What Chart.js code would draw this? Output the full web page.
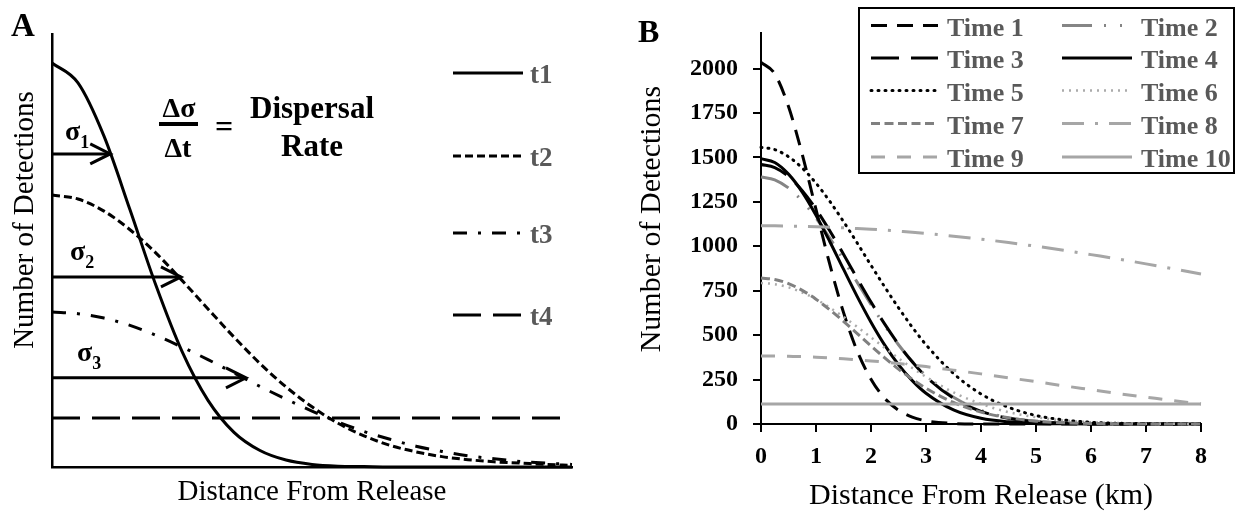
<!DOCTYPE html>
<html><head><meta charset="utf-8">
<script src="https://cdn.jsdelivr.net/npm/chart.js@4.4.1/dist/chart.umd.min.js"></script>
<style>
html,body{margin:0;padding:0;background:#fff;}
#wrap{position:relative;width:1236px;height:511px;overflow:hidden;background:#fff;}
#ca{position:absolute;left:0;top:0;}
#cb{position:absolute;left:610px;top:0;}
</style></head><body>
<div id="wrap"><canvas id="ca" width="610" height="511"></canvas><canvas id="cb" width="626" height="511"></canvas></div>
<script>
// ---------- Panel A (schematic) ----------
const schematicX = [0,0.5,1,1.5,2,2.5,3,3.5,4,4.5,5,5.5,6,6.5,7,7.5,8,8.5,9,9.5,10];
const t1Values = [93.3,88.7,76.4,59.4,41.9,26.7,15.4,8.0,3.8,1.6,0.6,0.2,0.1,0,0,0,0,0,0,0,0];
const t2Values = [62.8,61.9,59.1,54.8,49.4,43.1,36.5,30.0,23.9,18.5,13.9,10.1,7.2,5.0,3.5,2.4,1.7,1.2,0.9,0.6,0.4];
const t3Values = [35.8,35.4,34.4,32.7,30.4,27.7,24.8,21.7,18.6,15.7,12.9,10.4,8.2,6.4,4.8,3.6,2.6,1.9,1.3,0.9,0.6];
const t4Values = [11.3,11.3,11.3,11.3,11.3,11.3,11.3,11.3,11.3,11.3,11.3,11.3,11.3,11.3,11.3,11.3,11.3,11.3,11.3,11.3,11.3];
const panelALabels = ['t1','t2','t3','t4'];
const sigmaArrowHeights = [72.3, 43.9, 20.6];
const sigmaArrowLengths = [1.12, 2.48, 3.73];
const sigmaSubscripts = ['1','2','3'];

// ---------- Panel B (data) ----------
const distanceKm = [0,0.25,0.5,0.75,1,1.25,1.5,1.75,2,2.25,2.5,2.75,3,3.5,4,4.5,5,5.5,6,6.5,7,7.5,8];
const time1 = [2035,1970,1786,1517,1207,899,628,410,252,144,78,39,18,3,0,0,0,0,0,0,0,0,0];
const time2 = [1390,1374,1328,1255,1159,1046,923,797,672,554,446,351,271,150,76,35,15,6,2,0,0,0,0];
const time3 = [1460,1443,1393,1313,1209,1087,955,819,686,562,449,350,267,145,71,32,13,5,2,0,0,0,0];
const time4 = [1493,1471,1406,1305,1175,1027,871,717,573,444,334,244,173,79,32,12,4,1,0,0,0,0,0];
const time5 = [1557,1544,1504,1440,1355,1253,1139,1018,893,771,654,545,446,284,169,94,48,23,10,4,2,1,0];
const time6 = [793,787,769,740,702,655,603,546,487,428,370,315,265,178,113,67,38,20,10,5,2,1,0];
const time7 = [821,813,790,752,702,643,578,509,439,372,309,252,201,121,67,35,16,7,3,1,0,0,0];
const time8 = [1115,1115,1114,1112,1110,1107,1104,1100,1096,1091,1085,1079,1072,1057,1040,1021,1000,978,953,928,901,873,844];
const time9 = [383,383,381,379,376,372,367,361,355,348,340,332,323,303,282,260,238,215,193,171,151,131,113];
const time10 = [113,113,113,113,113,113,113,113,113,113,113,113,113,113,113,113,113,113,113,113,113,113,113];
const seriesNames = ['Time 1','Time 2','Time 3','Time 4','Time 5','Time 6','Time 7','Time 8','Time 9','Time 10'];
const yTickValues = [0,250,500,750,1000,1250,1500,1750,2000];
const xTickValues = [0,1,2,3,4,5,6,7,8];

const SERIF = "'Liberation Serif', 'Times New Roman', serif";
const LEGEND_GRAY = '#595959';

function pts(xs, ys){ return xs.map((x,i)=>({x:x, y:ys[i]})); }

// ---------- Panel A chart ----------
const aStyles = [
  {color:'#000', dash:[]},
  {color:'#000', dash:[8,4]},
  {color:'#000', dash:[14,11,3,11]},
  {color:'#000', dash:[28,12]}
];
const aValues = [t1Values,t2Values,t3Values,t4Values];

const annotA = {
  id:'annotA',
  afterDraw(chart){
    const {ctx, scales:{x,y}} = chart;
    ctx.save();
    ctx.strokeStyle = '#000'; ctx.fillStyle = '#000';
    const labelX = [65,70,77];
    const labelDy = [-14,-17,-17];
    sigmaArrowHeights.forEach((h,i)=>{
      const py = y.getPixelForValue(h);
      const x0 = x.getPixelForValue(0), x1 = x.getPixelForValue(sigmaArrowLengths[i]);
      ctx.lineWidth = 3; ctx.setLineDash([]); ctx.lineCap='butt';
      ctx.beginPath(); ctx.moveTo(x0,py); ctx.lineTo(x1,py); ctx.stroke();
      ctx.beginPath(); ctx.moveTo(x1-20,py-10); ctx.lineTo(x1,py); ctx.lineTo(x1-20,py+10); ctx.stroke();
      ctx.textAlign='left'; ctx.textBaseline='alphabetic';
      ctx.font = 'bold 28px ' + SERIF;
      ctx.fillText('\u03C3', labelX[i], py+labelDy[i]);
      const w = ctx.measureText('\u03C3').width;
      ctx.font = 'bold 18px ' + SERIF;
      ctx.fillText(sigmaSubscripts[i], labelX[i]+w, py+labelDy[i]+8);
    });
    // formula
    ctx.textAlign='center';
    ctx.font = 'bold 28px ' + SERIF;
    ctx.fillText('\u0394\u03C3', 179, 117);
    ctx.fillText('\u0394t', 178, 157);
    ctx.fillRect(159, 122, 39, 4);
    ctx.font = 'bold 32px ' + SERIF;
    ctx.textBaseline='middle';
    ctx.fillText('=', 224, 129);
    ctx.textBaseline='alphabetic';
    ctx.font = 'bold 31px ' + SERIF;
    ctx.fillText('Dispersal', 312, 118);
    ctx.fillText('Rate', 312, 156);
    // panel letter
    ctx.textAlign='left';
    ctx.font = 'bold 33px ' + SERIF;
    ctx.fillText('A', 11, 36);
    // y title
    ctx.save();
    ctx.translate(33, 220); ctx.rotate(-Math.PI/2);
    ctx.textAlign='center'; ctx.font = '29px ' + SERIF;
    ctx.fillText('Number of Detections', 0, 0);
    ctx.restore();
    // legend
    const rowsY = [73,156,233,315];
    chart.data.datasets.forEach((ds,i)=>{
      ctx.strokeStyle = ds.borderColor; ctx.lineWidth = ds.borderWidth;
      ctx.setLineDash(ds.borderDash || []);
      ctx.beginPath(); ctx.moveTo(453, rowsY[i]); ctx.lineTo(523, rowsY[i]); ctx.stroke();
      ctx.setLineDash([]);
      ctx.fillStyle = LEGEND_GRAY; ctx.textAlign='left';
      ctx.font = 'bold 27px ' + SERIF;
      ctx.fillText(ds.label, 530, rowsY[i]+10);
    });
    ctx.restore();
  }
};

new Chart(document.getElementById('ca'), {
  type:'scatter',
  data:{ datasets: panelALabels.map((lab,i)=>({
    label: lab, data: pts(schematicX, aValues[i]), showLine:true,
    borderColor: aStyles[i].color, borderDash: aStyles[i].dash, borderWidth:3,
    pointRadius:0, fill:false, clip:false, cubicInterpolationMode:'monotone'
  }))},
  options:{
    responsive:false, animation:false, devicePixelRatio:1,
    layout:{padding:{left:0,right:38,top:34,bottom:0}},
    plugins:{legend:{display:false}, tooltip:{enabled:false}},
    scales:{
      x:{type:'linear', min:0, max:10, ticks:{display:false}, grid:{display:false},
         border:{display:true,color:'#000',width:2.5},
         title:{display:true, text:'Distance From Release', color:'#000',
                font:{family:SERIF, size:29, lineHeight:1}, padding:{top:0,bottom:4}},
         afterFit(s){ s.height = 44; }},
      y:{type:'linear', min:0, max:100, ticks:{display:false}, grid:{display:false},
         border:{display:true,color:'#000',width:2.5},
         afterFit(s){ s.width = 52; }}
    }
  },
  plugins:[annotA]
});

// ---------- Panel B chart ----------
const bStyles = [
  {color:'#000000', dash:[16,10], cap:'butt', width:3},
  {color:'#858585', dash:[30,12,2,14,2,12], cap:'butt', width:3},
  {color:'#000000', dash:[28,12], cap:'butt', width:3},
  {color:'#000000', dash:[], cap:'butt', width:3},
  {color:'#000000', dash:[1,6], cap:'round', width:3},
  {color:'#ababab', dash:[2,5], cap:'butt', width:2.5},
  {color:'#808080', dash:[9,4.5], cap:'butt', width:3},
  {color:'#a6a6a6', dash:[22,11,3,11], cap:'butt', width:3},
  {color:'#a6a6a6', dash:[14,12], cap:'butt', width:3},
  {color:'#a6a6a6', dash:[], cap:'butt', width:3}
];
const bValues = [time1,time2,time3,time4,time5,time6,time7,time8,time9,time10];

const annotB = {
  id:'annotB',
  afterDraw(chart){
    const ctx = chart.ctx;
    ctx.save();
    ctx.strokeStyle='#000'; ctx.lineWidth=2; ctx.setLineDash([]);
    ctx.fillStyle='#fff';
    ctx.fillRect(249,8,375,165);
    ctx.strokeRect(249,8,375,165);
    const colLine = [[261,328],[452,522]];
    const colText = [337,531];
    const rowsY = [25.5,58,90.5,123.5,157];
    chart.data.datasets.forEach((ds,i)=>{
      const c = i%2, r = Math.floor(i/2);
      ctx.strokeStyle = ds.borderColor; ctx.lineWidth = ds.borderWidth;
      ctx.lineCap = ds.borderCapStyle || 'butt';
      ctx.setLineDash(ds.borderDash || []);
      ctx.beginPath(); ctx.moveTo(colLine[c][0], rowsY[r]); ctx.lineTo(colLine[c][1], rowsY[r]); ctx.stroke();
      ctx.setLineDash([]); ctx.lineCap='butt';
      ctx.fillStyle = LEGEND_GRAY; ctx.textAlign='left'; ctx.textBaseline='alphabetic';
      ctx.font = 'bold 26px ' + SERIF;
      ctx.fillText(ds.label, colText[c], rowsY[r]+10);
    });
    ctx.fillStyle='#000';
    ctx.font = 'bold 32px ' + SERIF;
    ctx.fillText('B', 28, 42);
    ctx.save();
    ctx.translate(50, 219); ctx.rotate(-Math.PI/2);
    ctx.textAlign='center'; ctx.font = '30px ' + SERIF;
    ctx.fillText('Number of Detections', 0, 0);
    ctx.restore();
    ctx.restore();
  }
};

new Chart(document.getElementById('cb'), {
  type:'scatter',
  data:{ datasets: seriesNames.map((name,i)=>({
    label:name, data: pts(distanceKm, bValues[i]), showLine:true,
    borderColor:bStyles[i].color, borderDash:bStyles[i].dash, borderCapStyle:bStyles[i].cap,
    borderWidth:bStyles[i].width, pointRadius:0, fill:false, clip:false,
    cubicInterpolationMode:'monotone', order: 10 - i
  }))},
  options:{
    responsive:false, animation:false, devicePixelRatio:1,
    layout:{padding:{left:0,right:35,top:33,bottom:0}},
    plugins:{legend:{display:false}, tooltip:{enabled:false}},
    scales:{
      x:{type:'linear', min:0, max:8,
         ticks:{color:'#000', padding:10, font:{family:SERIF, size:24, weight:'bold'},
                callback:(v)=>String(v)},
         afterBuildTicks(s){ s.ticks = xTickValues.map(v=>({value:v})); },
         grid:{drawOnChartArea:false, drawTicks:true, tickLength:8, color:'#000', lineWidth:2},
         border:{display:true,color:'#000',width:2},
         title:{display:true, text:'Distance From Release (km)', color:'#000',
                font:{family:SERIF, size:30, lineHeight:1}, padding:{top:0,bottom:0}},
         afterFit(s){ s.height = 87; }},
      y:{type:'linear', min:0, max:2200,
         ticks:{color:'#000', padding:15, font:{family:SERIF, size:24, weight:'bold'},
                callback:(v)=>String(v)},
         afterBuildTicks(s){ s.ticks = yTickValues.map(v=>({value:v})); },
         grid:{drawOnChartArea:false, drawTicks:true, tickLength:8, color:'#000', lineWidth:2},
         border:{display:true,color:'#000',width:2},
         afterFit(s){ s.width = 151; }}
    }
  },
  plugins:[annotB]
});
</script>
</body></html>
